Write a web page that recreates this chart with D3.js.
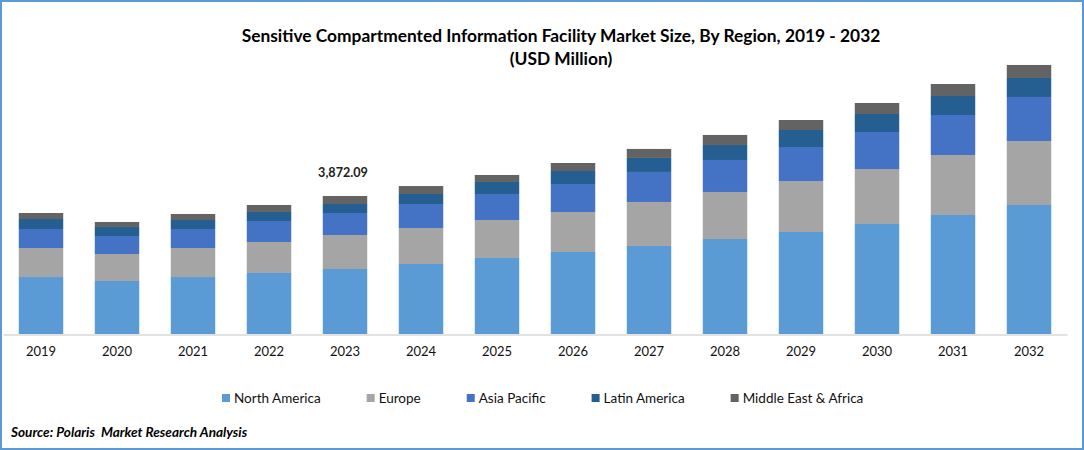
<html>

<head>
    <style>
        body {
          margin: 0;
          background: white;
          font-family: Lato, "Open Sans", sans-serif;
        }

        svg {
          display: block;
        }
    </style>
    <script src="https://d3js.org/d3.v7.min.js"></script>
</head>

<body>
    <svg id="Chart"></svg>
</body>

<script>
  const years = ["2019", "2020", "2021", "2022", "2023", "2024", "2025", "2026", "2027", "2028", "2029", "2030", "2031", "2032"];
  const regions = ["North America", "Europe", "Asia Pacific", "Latin America", "Middle East & Africa"];
  const colors = ["#5b9bd5", "#a5a5a5", "#4472c4", "#255e91", "#636363"];

  const northAmerica = [1599, 1487, 1599, 1712, 1824, 1964, 2133, 2301, 2470, 2666, 2862, 3087, 3339, 3620];
  const europe = [814, 758, 814, 870, 954, 1010, 1066, 1122, 1235, 1319, 1431, 1543, 1684, 1796];
  const asiaPacific = [533, 505, 533, 589, 617, 673, 730, 786, 842, 898, 954, 1038, 1122, 1235];
  const latinAmerica = [281, 253, 253, 253, 253, 281, 337, 365, 393, 421, 477, 505, 533, 533];
  const middleEastAfrica = [168, 140, 168, 196, 224, 224, 196, 224, 253, 281, 281, 309, 337, 365];
  const seriesValues = [northAmerica, europe, asiaPacific, latinAmerica, middleEastAfrica];

  const labelYear = "2023";
  const labelText = "3,872.09";
  const titleLines = ["Sensitive Compartmented Information Facility Market Size, By Region, 2019 - 2032", "(USD Million)"];
  const sourceText = "Source: Polaris  Market Research Analysis";

  const width = 1084;
  const height = 450;
  const yMax = 8418;

  function getConfig() {
    let container = d3.select("#Chart")
      .attr("width", width)
      .attr("height", height);
    let xScale = d3.scaleBand()
      .domain(years)
      .range([3, 1067])
      .paddingInner(0.415)
      .paddingOuter(0.2075);
    let yScale = d3.scaleLinear()
      .domain([0, yMax])
      .range([334, 34]);
    return { container, xScale, yScale };
  }

  function drawFrame(container) {
    container.append("rect")
      .attr("x", 1)
      .attr("y", 1)
      .attr("width", width - 2)
      .attr("height", height - 2)
      .attr("fill", "white")
      .attr("stroke", "#5b9bd5")
      .attr("stroke-width", 2);
  }

  function drawTitle(container) {
    container.selectAll(".title")
      .data(titleLines)
      .enter().append("text")
      .attr("class", "title")
      .attr("x", 561)
      .attr("y", (d, i) => 42 + i * 23)
      .attr("text-anchor", "middle")
      .attr("font-size", 17.35)
      .attr("font-weight", 700)
      .attr("fill", "#000")
      .text(d => d);
  }

  function drawBars(container, xScale, yScale) {
    let rows = years.map((year, i) => {
      let row = { year };
      regions.forEach((r, j) => { row[r] = seriesValues[j][i]; });
      return row;
    });
    let stacked = d3.stack().keys(regions)(rows);

    let groups = container.selectAll(".series")
      .data(stacked)
      .enter().append("g")
      .attr("class", "series")
      .attr("fill", (d, i) => colors[i]);

    groups.selectAll("rect")
      .data(d => d)
      .enter().append("rect")
      .attr("x", d => xScale(d.data.year))
      .attr("width", xScale.bandwidth())
      .attr("y", d => yScale(d[1]))
      .attr("height", d => yScale(d[0]) - yScale(d[1]));
  }

  function drawAxis(container, xScale, yScale) {
    let axisX = d3.axisBottom(xScale).tickSize(0).tickPadding(12);
    let axis = container.append("g")
      .attr("transform", `translate(0,${yScale(0) + 0.5})`)
      .call(axisX);
    axis.select(".domain").attr("stroke", "#d9d9d9").attr("stroke-width", 1.5);
    axis.selectAll("text")
      .attr("font-family", "Lato")
      .attr("font-size", 13)
      .attr("fill", "#111");
  }

  function drawLabel(container, xScale, yScale) {
    let i = years.indexOf(labelYear);
    let total = d3.sum(seriesValues, s => s[i]);
    container.append("text")
      .attr("x", xScale(labelYear) + xScale.bandwidth() / 2 - 2)
      .attr("y", yScale(total) - 19)
      .attr("text-anchor", "middle")
      .attr("font-size", 12.6)
      .attr("font-weight", 700)
      .attr("fill", "#222")
      .text(labelText);
  }

  function drawLegend(container) {
    let x = 222;
    regions.forEach((region, i) => {
      let g = container.append("g").attr("transform", `translate(${x},394)`);
      g.append("rect")
        .attr("width", 8)
        .attr("height", 8)
        .attr("fill", colors[i]);
      let label = g.append("text")
        .attr("x", 12)
        .attr("y", 9)
        .attr("font-size", 13.5)
        .attr("fill", "#111")
        .text(region);
      // next entry starts after the text of this one
      x += 12 + label.node().getComputedTextLength() + 46;
    });
  }

  function drawSource(container) {
    container.append("text")
      .attr("x", 11)
      .attr("y", 437)
      .attr("font-size", 13.6)
      .attr("font-weight", 700)
      .attr("font-style", "italic")
      .attr("fill", "#000")
      .attr("xml:space", "preserve")
      .text(sourceText);
  }

  function showChart() {
    let { container, xScale, yScale } = getConfig();
    drawFrame(container);
    drawTitle(container);
    drawBars(container, xScale, yScale);
    drawAxis(container, xScale, yScale);
    drawLabel(container, xScale, yScale);
    drawLegend(container);
    drawSource(container);
  }

  showChart();
</script>
</html>
